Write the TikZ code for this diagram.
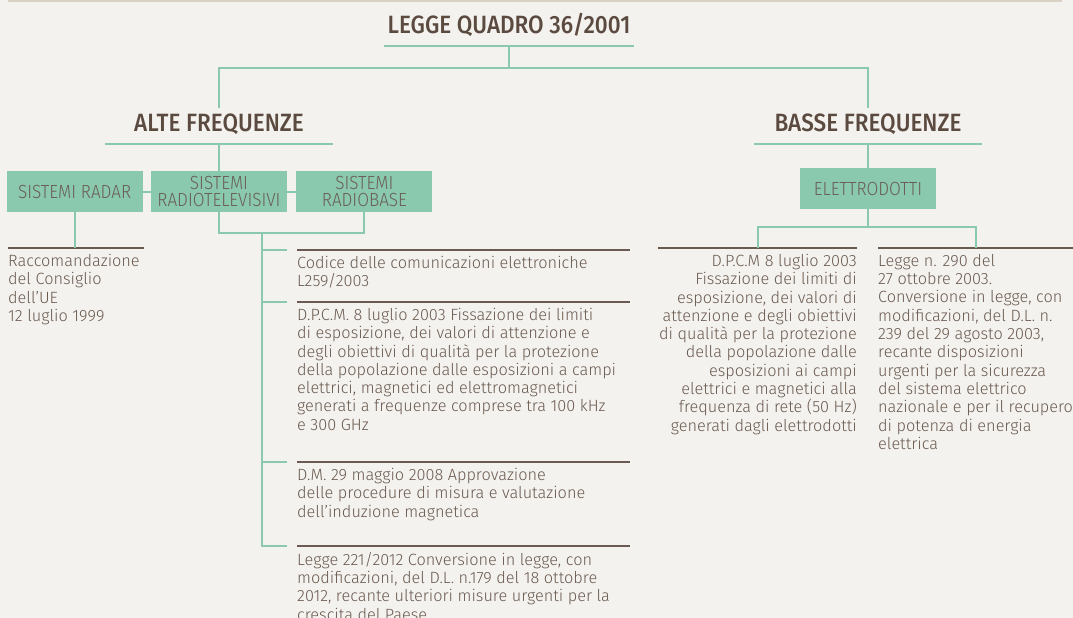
\documentclass[tikz,border=0pt]{standalone}
\usepackage{fontspec}
\setmainfont{Fira Sans Light}
\newfontfamily\titlefont{Fira Sans Medium}[FakeStretch=0.9]
\newfontfamily\boxfont{Fira Sans Light}[FakeStretch=0.9]
\newfontfamily\bodyfont{Fira Sans Light}
\usetikzlibrary{positioning}
\definecolor{bgCream}{HTML}{F4F2EE}
\definecolor{topLine}{HTML}{D9D1C3}
\definecolor{boxGreen}{HTML}{8AC9AE}
\definecolor{boxText}{HTML}{6A5E57}
\definecolor{titleBrown}{HTML}{5B4A40}
\definecolor{txtBrown}{HTML}{6A5A50}
\definecolor{ruleBrown}{HTML}{6B5A4F}

\begin{document}
\begin{tikzpicture}[
  x=1pt, y=-1pt,
  ttl/.style   ={font=\titlefont\fontsize{25}{25}\selectfont, text=titleBrown, inner xsep=0pt, inner ysep=6pt, text height=17.5pt, text depth=6pt},
  sbox/.style  ={fill=boxGreen, minimum width=136pt, minimum height=41pt, inner sep=0pt, align=center, font=\boxfont\fontsize{19}{17.5}\selectfont, text=boxText},
  legal/.style ={inner xsep=0pt, inner ysep=6pt, align=left, font=\bodyfont\fontsize{16.3}{18.3}\selectfont, text=txtBrown, execute at begin node=\strut},
  grn/.style   ={draw=boxGreen, line width=2pt},
  rulebar/.style={draw=ruleBrown, line width=2pt},
]
\fill[bgCream] (0,0) rectangle (1073,618);
\useasboundingbox (0,0) rectangle (1073,618);
\draw[topLine, line width=2pt] (8,1) -- (1062,1);

% ==================== titles ====================
\node[ttl, minimum width=250pt, anchor=south] (legge) at (509,46) {LEGGE QUADRO 36/2001};
\node[ttl, minimum width=227pt, anchor=south] (alte)  at (219,144) {ALTE FREQUENZE};
\node[ttl, minimum width=228pt, anchor=south] (basse) at (868,144) {BASSE FREQUENZE};
\draw[grn] (legge.south west) -- (legge.south east);
\draw[grn] (alte.south west) -- (alte.south east);
\draw[grn] (basse.south west) -- (basse.south east);

% ==================== systems ====================
\node[sbox, below=27pt of alte] (radiotv) {SISTEMI\\RADIOTELEVISIVI};
\node[sbox, left=8pt of radiotv]  (radar) {SISTEMI RADAR};
\node[sbox, right=9pt of radiotv] (radiobase) {SISTEMI\\RADIOBASE};
\node[sbox, below=24pt of basse]  (elettro) {ELETTRODOTTI};

% ==================== norms ====================
\node[legal, anchor=north west] (raccom) at (8,248)
  {Raccomandazione\\del Consiglio\\dell’UE\\12 luglio 1999};
\node[legal, anchor=north west] (codice) at (297,250)
  {Codice delle comunicazioni elettroniche\\L259/2003};
\node[legal, anchor=north west] (dpcm) at (297,302)
  {D.P.C.M. 8 luglio 2003 Fissazione dei limiti\\di esposizione, dei valori di attenzione e\\degli obiettivi di qualità per la protezione\\della popolazione dalle esposizioni a campi\\elettrici, magnetici ed elettromagnetici\\generati a frequenze comprese tra 100 kHz\\e 300 GHz};
\node[legal, anchor=north west] (dm) at (297,462)
  {D.M. 29 maggio 2008 Approvazione\\delle procedure di misura e valutazione\\dell’induzione magnetica};
\node[legal, anchor=north west] (l221) at (297,546)
  {Legge 221/2012 Conversione in legge, con\\modificazioni, del D.L. n.179 del 18 ottobre\\2012, recante ulteriori misure urgenti per la\\crescita del Paese};
\node[legal, align=right, anchor=north east] (dpcmbf) at (857,248)
  {D.P.C.M 8 luglio 2003\\Fissazione dei limiti di\\esposizione, dei valori di\\attenzione e degli obiettivi\\di qualità per la protezione\\della popolazione dalle\\esposizioni ai campi\\elettrici e magnetici alla\\frequenza di rete (50 Hz)\\generati dagli elettrodotti};
\node[legal, anchor=north west] (legge290) at (878,248)
  {Legge n. 290 del\\27 ottobre 2003.\\Conversione in legge, con\\modificazioni, del D.L. n.\\239 del 29 agosto 2003,\\recante disposizioni\\urgenti per la sicurezza\\del sistema elettrico\\nazionale e per il recupero\\di potenza di energia\\elettrica};

% rules above the norms
\draw[rulebar] (raccom.north west) -- ++(136,0);
\foreach \n in {codice,dpcm,dm,l221}
  \draw[rulebar] (\n.north west) -- ++(333,0);
\draw[rulebar] (dpcmbf.north east) -- ++(-199,0) coordinate[pos=0.5] (bfmid);
\draw[rulebar] (legge290.north west) -- ++(200,0) coordinate[pos=0.49] (lgmid);

% ==================== connectors ====================
\draw[grn] (legge.south) -- ++(0,22) coordinate (hub);
\draw[grn] (alte.north) |- (hub) -| (basse.north);
\draw[grn] (alte.south) -- (radiotv.north);
\draw[grn] (radar.east) -- (radiotv.west);
\draw[grn] (radiotv.east) -- (radiobase.west);
\draw[grn] (radar.south) -- (radar.south |- raccom.north);
\draw[grn] (radiotv.south) -- ++(0,21) coordinate (tvfoot) -| (radiobase.south);
\coordinate (spine) at (262,233);
\draw[grn] (spine) |- ([xshift=-10pt]l221.north west);
\foreach \n in {codice,dpcm,dm}
  \draw[grn] (spine |- \n.north) -- ([xshift=-10pt]\n.north west);
\draw[grn] (basse.south) -- (elettro.north);
\draw[grn] (elettro.south) -- ++(0,18) coordinate (efoot);
\draw[grn] (bfmid) |- (efoot) -| (lgmid);
\end{tikzpicture}
\end{document}
